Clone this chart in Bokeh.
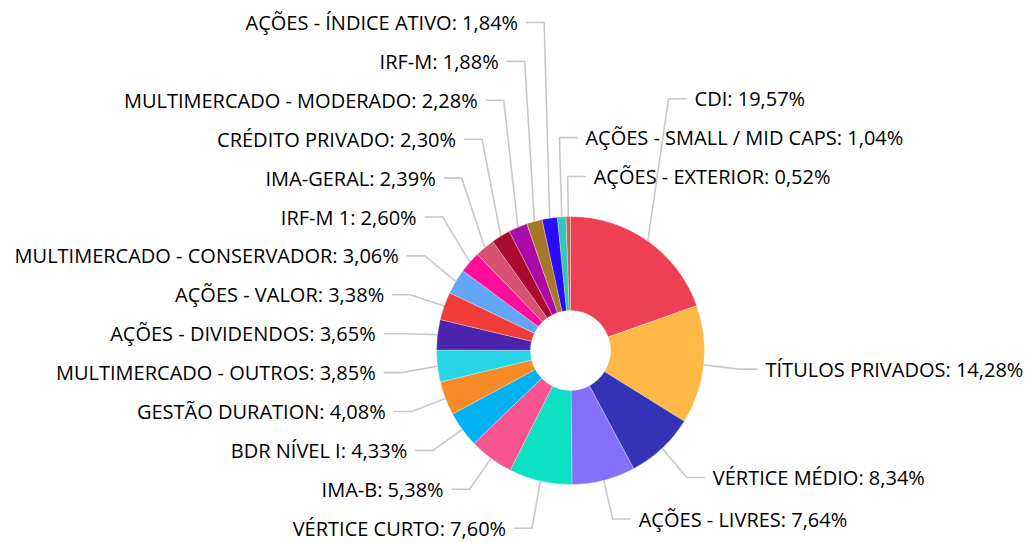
import math
from bokeh.plotting import figure
from bokeh.models import Range1d, ColumnDataSource
from bokeh.core.properties import value
from bokeh.embed import file_html
from bokeh.resources import INLINE

# ---------------- data ----------------
categories = [
    "CDI", "TÍTULOS PRIVADOS", "VÉRTICE MÉDIO", "AÇÕES - LIVRES", "VÉRTICE CURTO",
    "IMA-B", "BDR NÍVEL I", "GESTÃO DURATION", "MULTIMERCADO - OUTROS",
    "AÇÕES - DIVIDENDOS", "AÇÕES - VALOR", "MULTIMERCADO - CONSERVADOR",
    "IRF-M 1", "IMA-GERAL", "CRÉDITO PRIVADO", "MULTIMERCADO - MODERADO",
    "IRF-M", "AÇÕES - ÍNDICE ATIVO", "AÇÕES - SMALL / MID CAPS", "AÇÕES - EXTERIOR",
]
values = [19.57, 14.28, 8.34, 7.64, 7.60, 5.38, 4.33, 4.08, 3.85, 3.65, 3.38, 3.06,
          2.60, 2.39, 2.30, 2.28, 1.88, 1.84, 1.04, 0.52]
colors = [
    "#ee4055", "#ffb845", "#3333b5", "#8570fa", "#0be0c5", "#f85590", "#00b0f0",
    "#f68b27", "#27d5e6", "#4a25ab", "#f23c3a", "#62a6f5", "#ff0e9c", "#d85170",
    "#aa0a2d", "#ab0aa5", "#a8782a", "#2b0cf6", "#33c6b8", "#c8634f",
]

# ---------------- layout (pixel units, y measured downward) ----------------
W, H = 1027, 543
CX, CY = 570, 350
R_OUT, R_IN = 134, 40
R_LABEL_X = 170
R_LABEL_Y = 174
GAP = 38.9
TOP = 22
TICK = 18
TEXT_OFF = 26


def fy(y_pix):
    return H - y_pix


total = sum(values)
starts, ends, mids = [], [], []
cum = 0.0
for v in values:
    f = v / total
    starts.append(cum)
    cum += f
    ends.append(cum)
    mids.append(cum - f / 2)


def ang(t):
    return math.pi / 2 - 2 * math.pi * t


p = figure(width=W, height=H, x_range=Range1d(0, W), y_range=Range1d(0, H),
           output_backend="svg", toolbar_location=None, min_border=0)
p.axis.visible = False
p.grid.visible = False
p.outline_line_color = None
p.background_fill_color = "white"
p.border_fill_color = "white"

wsrc = ColumnDataSource(dict(
    start=[ang(s) for s in starts],
    end=[ang(e) for e in ends],
    color=colors,
))
p.annular_wedge(x=CX, y=fy(CY), inner_radius=R_IN, outer_radius=R_OUT,
                start_angle="start", end_angle="end", direction="clock",
                fill_color="color", line_color="white", line_width=0.5,
                line_alpha=0.6, source=wsrc)

# ---------------- label placement ----------------
items = []
for i, (c, v, t) in enumerate(zip(categories, values, mids)):
    wrapped = t if t <= 0.98 else t - 1
    right = wrapped < 0.5
    a = 2 * math.pi * t
    items.append(dict(
        i=i, text=f"{c}: {v:.2f}".replace(".", ",") + "%", right=right,
        wrapped=wrapped,
        ideal=CY - R_LABEL_Y * math.cos(a),
        ex=CX + R_LABEL_X * math.sin(a),
        sx=CX + R_OUT * math.sin(a), sy=CY - R_OUT * math.cos(a),
    ))


def place(group):
    ys = [g["ideal"] for g in group]
    for k in range(len(ys) - 2, -1, -1):
        ys[k] = min(ys[k], ys[k + 1] - GAP)
    ys[0] = max(ys[0], TOP)
    for k in range(1, len(ys)):
        ys[k] = max(ys[k], ys[k - 1] + GAP)
    for g, y in zip(group, ys):
        g["y"] = y


right_items = sorted([d for d in items if d["right"]],
                     key=lambda d: (d["i"] != 0, d["wrapped"]))
left_items = sorted([d for d in items if not d["right"]], key=lambda d: d["ideal"])
place(right_items)
place(left_items)

xs, ys = [], []
for d in items:
    sgn = 1 if d["right"] else -1
    xs.append([d["sx"], d["ex"], d["ex"] + sgn * TICK])
    ys.append([fy(d["sy"]), fy(d["y"]), fy(d["y"])])
p.multi_line(xs=xs, ys=ys, line_color="#c8c8c8", line_width=1.6)

for grp, align, sgn in ((right_items, "left", 1), (left_items, "right", -1)):
    src = ColumnDataSource(dict(
        x=[d["ex"] + sgn * TEXT_OFF for d in grp],
        y=[fy(d["y"]) for d in grp],
        text=[d["text"] for d in grp],
    ))
    p.text(x="x", y="y", text="text", source=src, text_align=align,
           text_baseline="middle", text_font=value("Open Sans"),
           text_font_size="20px", text_color="#000000")

open("out.html", "w").write(file_html(p, INLINE))
